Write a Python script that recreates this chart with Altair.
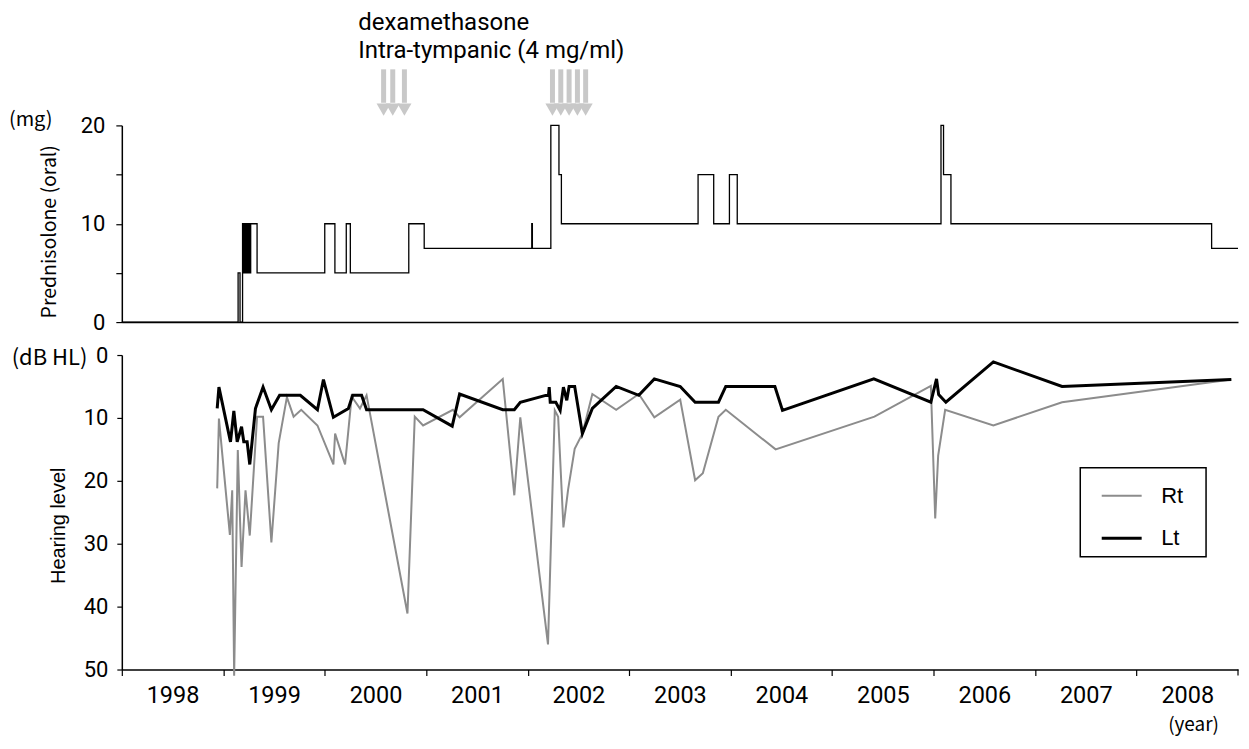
import altair as alt
import pandas as pd

# ---------------- data ----------------
pred_year = [1998.0, 1999.146, 1999.165, 1999.19, 1999.2, 1999.21, 1999.22, 1999.23, 1999.24, 1999.25,
             1999.26, 1999.27, 1999.333, 2000.0, 2000.1, 2000.212, 2000.252, 2000.828, 2000.98, 2002.04,
             2002.046, 2002.228, 2002.308, 2002.332, 2003.679, 2003.833, 2003.988, 2004.065, 2006.073, 2006.098,
             2006.171, 2008.74, 2009.0]
pred_mg = [0, 5, 0, 10, 5, 10, 5, 10, 5, 10,
           5, 10, 5, 10, 5, 10, 5, 10, 7.5, 10,
           7.5, 20, 15, 10, 15, 10, 15, 10, 20, 15,
           10, 7.5, 7.5]

arrow_year = [2000.58, 2000.67, 2000.785, 2002.244, 2002.326, 2002.408, 2002.49, 2002.571]

rt_year = [1998.94, 1998.957, 1999.065, 1999.088, 1999.107, 1999.143, 1999.18, 1999.219, 1999.261, 1999.333,
           1999.392, 1999.474, 1999.546, 1999.627, 1999.693, 1999.768, 1999.928, 2000.085, 2000.102, 2000.2,
           2000.265, 2000.347, 2000.412, 2000.815, 2000.887, 2000.969, 2001.263, 2001.329, 2001.754, 2001.868,
           2001.927, 2002.2, 2002.267, 2002.3, 2002.352, 2002.398, 2002.463, 2002.539, 2002.637, 2002.872,
           2003.095, 2003.248, 2003.503, 2003.65, 2003.726, 2003.88, 2003.952, 2004.443, 2005.417, 2005.973,
           2006.016, 2006.045, 2006.114, 2006.589, 2007.266, 2008.934]
rt_db = [21.2, 10.1, 28.6, 21.5, 51.0, 15.1, 33.7, 21.5, 28.7, 9.8,
         9.8, 29.8, 14.0, 6.7, 9.8, 8.7, 11.2, 17.4, 12.5, 17.4,
         6.6, 8.5, 6.4, 41.1, 9.8, 11.2, 8.7, 9.9, 3.8, 22.3,
         9.9, 46.0, 8.8, 9.8, 27.4, 21.4, 14.9, 12.5, 6.2, 8.7,
         6.2, 9.9, 7.1, 19.9, 18.8, 9.8, 8.7, 15.0, 9.8, 4.9,
         26.0, 16.0, 8.7, 11.2, 7.5, 3.9]

lt_year = [1998.94, 1998.957, 1999.071, 1999.104, 1999.137, 1999.18, 1999.202, 1999.235, 1999.261, 1999.317,
           1999.392, 1999.474, 1999.555, 1999.759, 1999.928, 1999.987, 2000.085, 2000.233, 2000.275, 2000.363,
           2000.412, 2000.969, 2001.256, 2001.329, 2001.754, 2001.868, 2001.927, 2002.205, 2002.212, 2002.222,
           2002.277, 2002.32, 2002.352, 2002.385, 2002.408, 2002.463, 2002.539, 2002.637, 2002.872, 2003.095,
           2003.248, 2003.503, 2003.65, 2003.88, 2003.952, 2004.436, 2004.511, 2005.411, 2005.973, 2006.029,
           2006.05, 2006.121, 2006.589, 2007.266, 2008.934]
lt_db = [8.5, 5.1, 13.8, 8.9, 13.8, 11.4, 13.8, 13.8, 17.4, 8.5,
         5.1, 8.7, 6.4, 6.4, 8.7, 3.9, 9.9, 8.5, 6.4, 6.4,
         8.7, 8.7, 11.3, 6.2, 8.7, 8.7, 7.5, 6.3, 5.1, 7.5,
         7.5, 8.8, 5.1, 7.2, 5.0, 5.0, 12.5, 8.5, 5.0, 6.4,
         3.8, 5.0, 7.5, 7.5, 5.0, 5.0, 8.8, 3.8, 7.5, 3.8,
         6.3, 7.5, 1.1, 5.0, 3.9]

year_labels = list(range(1998, 2009))
year_end = 2009
top_ticks = [0, 2.5, 5, 7.5, 10, 12.5, 15, 17.5, 20]
bottom_ticks = [0, 10, 20, 30, 40, 50]
ear_names = ["Rt", "Lt"]
ear_colors = ["#8c8c8c", "#000000"]
annotation_text = ["dexamethasone\nIntra-tympanic (4 mg/ml)"]
mg_unit = ["(mg)"]
db_unit = ["(dB HL)"]

# ---------------- styling ----------------
W = 1118
YEAR_PX = W / 11.0
NUM_FONT = "Roboto"
JP_FONT = "Noto Sans CJK JP"
xscale = alt.Scale(domain=[1998, 2009], nice=False, zero=False)

pred_df = pd.DataFrame({"year": pred_year, "mg": pred_mg})
arrow_df = pd.DataFrame({"year": arrow_year})
hear_df = pd.concat([
    pd.DataFrame({"year": rt_year, "db": rt_db, "ear": "Rt"}),
    pd.DataFrame({"year": lt_year, "db": lt_db, "ear": "Lt"}),
], ignore_index=True)

top_y_axis = alt.Axis(
    values=top_ticks, labelExpr="datum.value % 10 === 0 ? datum.label : ''",
    grid=False, tickSize=6, tickColor="black", tickWidth=1.2,
    domainColor="black", domainWidth=1.5,
    labelFont=NUM_FONT, labelFontSize=22, labelColor="black", labelPadding=11,
    title="Prednisolone (oral)", titleFont=JP_FONT, titleFontSize=19.5, titleFontWeight="normal",
    titleColor="black", titleAngle=270, titleX=-72.5, titleY=106, titleAlign="center",
    titleBaseline="middle",
)
top_x_axis = alt.Axis(labels=False, ticks=False, grid=False, title=None,
                      domainColor="black", domainWidth=1.5)

step = alt.Chart(pred_df).mark_line(interpolate="step-after", color="black", strokeWidth=1.3).encode(
    x=alt.X("year:Q", scale=xscale, axis=top_x_axis),
    y=alt.Y("mg:Q", scale=alt.Scale(domain=[0, 20], nice=False, zero=True), axis=top_y_axis),
)
shafts = alt.Chart(arrow_df).mark_rule(color="#c8c8c8", strokeWidth=5).encode(
    x="year:Q", y=alt.datum(25.7), y2=alt.datum(22.3)
)
heads = alt.Chart(arrow_df).mark_point(shape="triangle-down", filled=True, color="#c8c8c8",
                                       opacity=1, size=200).encode(
    x="year:Q", y=alt.datum(21.6)
)
note = alt.Chart(pd.DataFrame({"t": annotation_text})).mark_text(
    align="left", baseline="top", font=NUM_FONT, fontSize=24, lineBreak="\n", lineHeight=28.5,
    color="black"
).encode(x=alt.datum(2000.33), y=alt.value(-115), text="t:N")
mg_label = alt.Chart(pd.DataFrame({"t": mg_unit})).mark_text(
    align="right", baseline="middle", font=JP_FONT, fontSize=20, color="black"
).encode(x=alt.value(-69.5), y=alt.value(-5), text="t:N")

top = alt.layer(step, shafts, heads, note, mg_label).properties(width=W, height=197)

bottom_x_axis = alt.Axis(
    values=year_labels, format="d",
    labelOffset=YEAR_PX / 2, labelFlush=False, labelOverlap=False, grid=False,
    tickSize=6, tickColor="black", tickWidth=1.2, domainColor="black", domainWidth=1.5,
    labelFont=NUM_FONT, labelFontSize=23.5, labelColor="black", labelPadding=8,
    title="(year)", titleFont=JP_FONT, titleFontSize=19, titleFontWeight="normal", titleColor="black",
    titleX=1073, titleY=55, titleAlign="center", titleBaseline="middle",
)
bottom_y_axis = alt.Axis(
    values=bottom_ticks, grid=False, tickSize=5, tickColor="black", tickWidth=1.2,
    domainColor="black", domainWidth=1.5,
    labelFont=NUM_FONT, labelFontSize=22, labelColor="black", labelPadding=9,
    title="Hearing level", titleFont="Liberation Sans", titleFontSize=20, titleFontWeight="normal",
    titleColor="black", titleAngle=270, titleX=-63.5, titleY=170.5, titleAlign="center",
    titleBaseline="middle",
)

lines = alt.Chart(hear_df).mark_line().encode(
    x=alt.X("year:Q", scale=xscale, axis=bottom_x_axis),
    y=alt.Y("db:Q", scale=alt.Scale(domain=[0, 50], reverse=True, nice=False), axis=bottom_y_axis),
    color=alt.Color("ear:N", scale=alt.Scale(domain=ear_names, range=ear_colors),
                    legend=alt.Legend(title=None, orient="none", legendX=960, legendY=343,
                                      symbolType="stroke", symbolSize=1600, symbolStrokeWidth=2.5,
                                      labelFont="Liberation Sans", labelFontSize=22, labelColor="black",
                                      labelExpr="datum.label + '\u2800'",
                                      labelOffset=18, padding=7, rowPadding=10, symbolOffset=13,
                                      strokeColor="black", fillColor="white")),
    strokeWidth=alt.StrokeWidth("ear:N", scale=alt.Scale(domain=ear_names, range=[2, 3]), legend=None),
)
end_tick = alt.Chart(pd.DataFrame({"year": [year_end]})).mark_rule(color="black", strokeWidth=1.2).encode(
    x="year:Q", y=alt.value(315), y2=alt.value(321)
)
db_label = alt.Chart(pd.DataFrame({"t": db_unit})).mark_text(
    align="right", baseline="middle", font=JP_FONT, fontSize=22, color="black"
).encode(x=alt.value(-34.5), y=alt.value(3), text="t:N")

bottom = alt.layer(lines, end_tick, db_label).properties(width=W, height=315)

chart = alt.vconcat(top, bottom, spacing=11).properties(
    padding={"left": 0, "top": 2, "right": 0, "bottom": 3}, background="white"
).configure_view(stroke=None).configure_legend(strokeWidth=1.5)

chart.save("out.html", embed_options={"renderer": "svg", "actions": False})
